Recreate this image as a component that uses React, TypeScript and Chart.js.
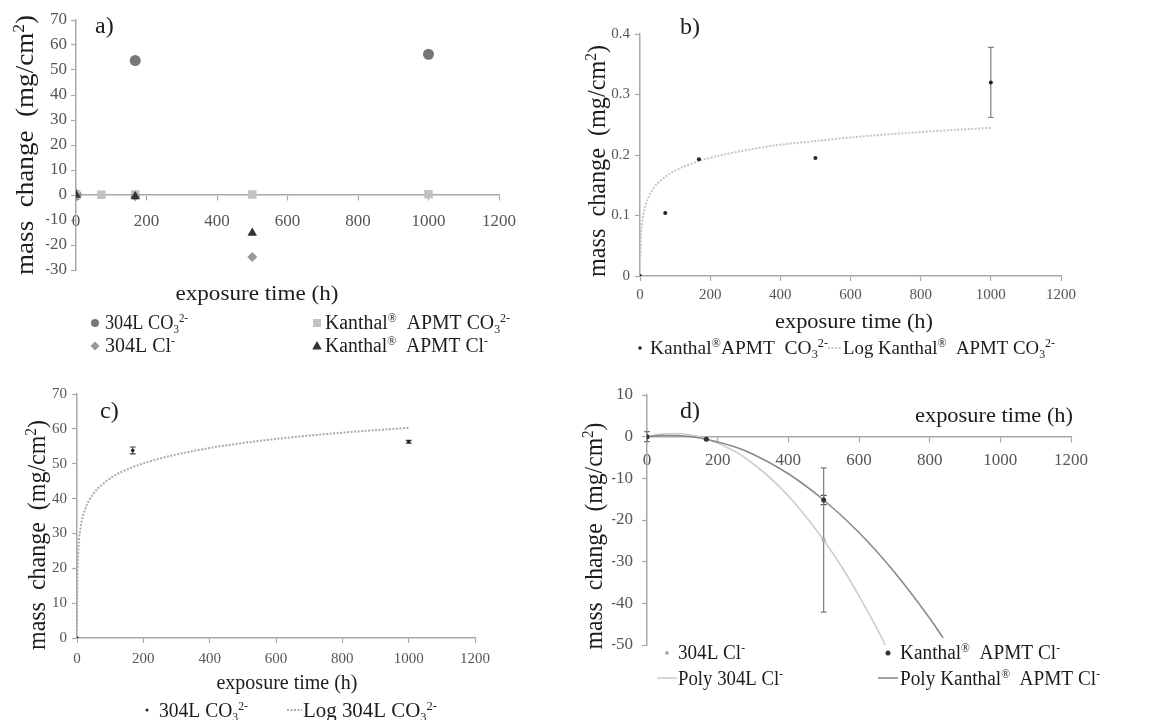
import React, { useEffect, useRef } from "react";
import { Chart, registerables } from "chart.js";

Chart.register(...registerables);

// ---------------- DATA ----------------
// Panel a) all series
const aTime304CO3 = [0, 168, 1000];
const aMass304CO3 = [0, 53.8, 56.3];
const aTimeKanCO3 = [0, 72, 168, 500, 1000];
const aMassKanCO3 = [0, 0.1, 0.19, 0.2, 0.32];
const aTime304Cl = [0, 168, 500];
const aMass304Cl = [0, -0.5, -24.8];
const aTimeKanCl = [0, 168, 500];
const aMassKanCl = [0, -0.6, -15.2];

// Panel b) Kanthal APMT CO3
const bTime = [0, 72, 168, 500, 1000];
const bMass = [0, 0.104, 0.193, 0.195, 0.32];
const bErr = [0, 0, 0, 0, 0.058];
const bLogTime = [1, 3, 5, 10, 20, 40, 70, 100, 168, 250, 400, 500, 600, 800, 1000];
const bLogMass = [0.032, 0.066, 0.082, 0.103, 0.124, 0.146, 0.163, 0.174, 0.19, 0.202, 0.217, 0.223, 0.229, 0.238, 0.245];

// Panel c) 304L CO3
const cTime = [0, 168, 1000];
const cMass = [0, 53.8, 56.3];
const cErr = [0, 1.0, 0.4];
const cLogTime = [0.1, 0.3, 1, 3, 10, 25, 50, 100, 168, 250, 400, 600, 800, 1000];
const cLogMass = [2, 9, 16.6, 23.6, 31.2, 37, 41.4, 45.8, 49, 51.5, 54.5, 57.1, 58.9, 60.3];

// Panel d) chloride
const dTime304 = [0, 168, 500];
const dMass304 = [0, -0.5, -24.8];
const dErr304 = [1.2, 0, 17.3];
const dTimeKan = [0, 168, 500];
const dMassKan = [0, -0.6, -15.2];
const dErrKan = [0, 0, 1.1];
const dPoly304Time = [0, 40, 80, 120, 168, 250, 300, 350, 400, 450, 500, 550, 600, 650, 680];
const dPoly304Mass = [0, 0.6, 0.75, 0.45, -0.5, -3.6, -6.5, -10, -14.2, -19.2, -24.8, -31.1, -38.2, -45.9, -50.9];
const dPolyKanTime = [0, 40, 80, 120, 168, 250, 300, 400, 500, 600, 700, 800, 838];
const dPolyKanMass = [0, 0.27, 0.29, 0.05, -0.6, -2.5, -4.2, -8.9, -15.2, -23, -32.5, -43.6, -48.3];

// axis ranges [min, max, step]
const xRange = [0, 1200, 200];
const aYRange = [-30, 70, 10];
const bYRange = [0, 0.4, 0.1];
const cYRange = [0, 70, 10];
const dYRange = [-50, 10, 10];

// ---------------- STYLE ----------------
const FONT = '"Liberation Serif", "Times New Roman", serif';
const AXIS = "#a8a8a8";
const TICK = "#555555";
const TXT = "#1c1c1c";

const pts = (xs: number[], ys: number[]) => xs.map((x, i) => ({ x, y: ys[i] }));

type Seg = { t: string; k: "n" | "sub" | "sup" };
function parseRich(s: string): Seg[] {
  const out: Seg[] = [];
  let buf = "";
  let i = 0;
  while (i < s.length) {
    const c = s[i];
    if ((c === "_" || c === "^") && s[i + 1] === "{") {
      if (buf) { out.push({ t: buf, k: "n" }); buf = ""; }
      const end = s.indexOf("}", i + 2);
      out.push({ t: s.slice(i + 2, end), k: c === "_" ? "sub" : "sup" });
      i = end + 1;
    } else {
      buf += c;
      i++;
    }
  }
  if (buf) out.push({ t: buf, k: "n" });
  return out;
}

type Item =
  | { k: "text"; t: string; x: number; y: number; size: number; align?: "left" | "center"; width?: number; rot?: boolean; color?: string }
  | { k: "mark"; shape: string; x: number; y: number; r: number; color: string }
  | { k: "line"; x1: number; x2: number; y: number; color: string; dash: number[]; w: number };

function drawRich(ctx: CanvasRenderingContext2D, it: any) {
  const segs = parseRich(it.t);
  const size = it.size;
  const fontFor = (k: string) => `${k === "n" ? size : Math.round(size * 0.62)}px ${FONT}`;
  let total = 0;
  const ws = segs.map((s) => {
    ctx.font = fontFor(s.k);
    const w = ctx.measureText(s.t).width;
    total += w;
    return w;
  });
  ctx.save();
  if (it.rot) {
    ctx.translate(it.x + size * 0.3, it.y);
    ctx.rotate(-Math.PI / 2);
  } else {
    ctx.translate(it.x, it.y);
  }
  const sx = it.width ? it.width / total : 1;
  ctx.scale(sx, 1);
  let cx = it.align === "center" || it.rot ? -total / 2 : 0;
  ctx.textAlign = "left";
  ctx.textBaseline = "alphabetic";
  ctx.fillStyle = it.color || TXT;
  segs.forEach((s, i) => {
    ctx.font = fontFor(s.k);
    const dy = s.k === "sup" ? -size * 0.36 : s.k === "sub" ? size * 0.2 : 0;
    ctx.fillText(s.t, cx, dy);
    cx += ws[i];
  });
  ctx.restore();
}

function drawMark(ctx: CanvasRenderingContext2D, m: any) {
  ctx.save();
  ctx.fillStyle = m.color;
  ctx.beginPath();
  const { x, y, r } = m;
  if (m.shape === "circle") {
    ctx.arc(x, y, r, 0, Math.PI * 2);
  } else if (m.shape === "rect") {
    ctx.rect(x - r, y - r, 2 * r, 2 * r);
  } else if (m.shape === "diamond") {
    ctx.moveTo(x, y - r); ctx.lineTo(x + r, y); ctx.lineTo(x, y + r); ctx.lineTo(x - r, y); ctx.closePath();
  } else if (m.shape === "triangle") {
    ctx.moveTo(x, y - r); ctx.lineTo(x + r * 0.95, y + r * 0.7); ctx.lineTo(x - r * 0.95, y + r * 0.7); ctx.closePath();
  }
  ctx.fill();
  ctx.restore();
}

function makeTextPlugin(items: Item[]) {
  return {
    id: "figText",
    afterDraw(chart: any) {
      const ctx: CanvasRenderingContext2D = chart.ctx;
      items.forEach((it: any) => {
        if (it.k === "text") drawRich(ctx, it);
        else if (it.k === "mark") drawMark(ctx, it);
        else if (it.k === "line") {
          ctx.save();
          ctx.strokeStyle = it.color;
          ctx.lineWidth = it.w;
          ctx.setLineDash(it.dash);
          ctx.beginPath();
          ctx.moveTo(it.x1, it.y);
          ctx.lineTo(it.x2, it.y);
          ctx.stroke();
          ctx.restore();
        }
      });
    },
  };
}

const errorBarPlugin = {
  id: "errorBars",
  beforeDatasetsDraw(chart: any) {
    const ctx: CanvasRenderingContext2D = chart.ctx;
    const xs = chart.scales.x;
    const ys = chart.scales.y;
    chart.data.datasets.forEach((ds: any) => {
      const errs = ds.errorBars;
      if (!errs) return;
      ctx.save();
      ctx.strokeStyle = ds.errorColor || "#777";
      ctx.lineWidth = 1.2;
      ds.data.forEach((p: any, j: number) => {
        const e = errs[j];
        if (!e) return;
        const px = xs.getPixelForValue(p.x);
        const t = ys.getPixelForValue(p.y + e);
        const b = ys.getPixelForValue(p.y - e);
        ctx.beginPath();
        ctx.moveTo(px, t); ctx.lineTo(px, b);
        ctx.moveTo(px - 3, t); ctx.lineTo(px + 3, t);
        ctx.moveTo(px - 3, b); ctx.lineTo(px + 3, b);
        ctx.stroke();
      });
      ctx.restore();
    });
  },
};

type PanelSpec = {
  box: [number, number, number, number];
  padding: { left: number; top: number; right: number; bottom: number };
  yWidth: number;
  xPos: any;
  xHeight?: number;
  yRange: number[];
  yDecimals: number;
  tickSize: number;
  xTickPad: number;
  yTickPad: number;
  datasets: any[];
  items: Item[];
};

function buildConfig(s: PanelSpec): any {
  const fmt = (v: any) => (s.yDecimals ? String(Number(Number(v).toFixed(s.yDecimals))) : String(v));
  return {
    type: "scatter",
    data: { datasets: s.datasets },
    options: {
      animation: false,
      responsive: false,
      maintainAspectRatio: false,
      devicePixelRatio: 1,
      events: [],
      layout: { padding: s.padding },
      plugins: { legend: { display: false }, tooltip: { enabled: false } },
      scales: {
        x: {
          type: "linear",
          min: xRange[0],
          max: xRange[1],
          position: s.xPos,
          afterFit: (sc: any) => {
            if (s.xHeight) sc.height = s.xHeight;
          },
          ticks: {
            stepSize: xRange[2],
            autoSkip: false,
            maxRotation: 0,
            padding: s.xTickPad,
            color: TICK,
            font: { family: FONT, size: s.tickSize },
            callback: (v: any) => String(v),
          },
          grid: { display: true, drawOnChartArea: false, drawTicks: true, tickLength: 5, tickColor: AXIS, tickWidth: 1.2 },
          border: { display: true, color: AXIS, width: 1.5 },
        },
        y: {
          type: "linear",
          min: s.yRange[0],
          max: s.yRange[1],
          position: "left",
          afterFit: (sc: any) => {
            sc.width = s.yWidth;
          },
          ticks: {
            stepSize: s.yRange[2],
            autoSkip: false,
            padding: s.yTickPad,
            color: TICK,
            font: { family: FONT, size: s.tickSize },
            callback: fmt,
          },
          grid: { display: true, drawOnChartArea: false, drawTicks: true, tickLength: 5, tickColor: AXIS, tickWidth: 1.2 },
          border: { display: true, color: AXIS, width: 1.5 },
        },
      },
    },
    plugins: [errorBarPlugin, makeTextPlugin(s.items)],
  };
}

const YT = "mass  change  (mg/cm^{2})";
const XT = "exposure time (h)";

const panelA: PanelSpec = {
  box: [0, 0, 580, 370],
  padding: { left: 46, top: 20, right: 81, bottom: 100 },
  yWidth: 30,
  xPos: { y: 0 },
  yRange: aYRange,
  yDecimals: 0,
  tickSize: 17,
  xTickPad: 11,
  yTickPad: 4,
  datasets: [
    { label: "Kanthal APMT Cl-", data: pts(aTimeKanCl, aMassKanCl), pointStyle: "triangle", pointRadius: 5.5, backgroundColor: "#333333", borderColor: "#333333", borderWidth: 0 },
    { label: "304L Cl-", data: pts(aTime304Cl, aMass304Cl), pointStyle: "rectRot", pointRadius: 5, backgroundColor: "#999999", borderColor: "#999999", borderWidth: 0 },
    { label: "Kanthal APMT CO3", data: pts(aTimeKanCO3, aMassKanCO3), pointStyle: "rect", pointRadius: 6, backgroundColor: "#c2c2c2", borderColor: "#c2c2c2", borderWidth: 0 },
    { label: "304L CO3", data: pts(aTime304CO3, aMass304CO3), pointStyle: "circle", pointRadius: 5.5, backgroundColor: "#777777", borderColor: "#777777", borderWidth: 0 },
  ],
  items: [
    { k: "text", t: "a)", x: 95, y: 33, size: 24 },
    { k: "text", t: YT, x: 25, y: 145, size: 25, rot: true, width: 260 },
    { k: "text", t: XT, x: 257, y: 300, size: 22, align: "center", width: 163 },
    { k: "mark", shape: "circle", x: 95, y: 323, r: 4, color: "#777777" },
    { k: "text", t: "304L CO_{3}^{2-}", x: 105, y: 329, size: 20, width: 83 },
    { k: "mark", shape: "rect", x: 317, y: 323, r: 4, color: "#c2c2c2" },
    { k: "text", t: "Kanthal^{®}  APMT CO_{3}^{2-}", x: 325, y: 329, size: 20, width: 185 },
    { k: "mark", shape: "diamond", x: 95, y: 346, r: 4.5, color: "#999999" },
    { k: "text", t: "304L Cl^{-}", x: 105, y: 352, size: 20, width: 70 },
    { k: "mark", shape: "triangle", x: 317, y: 346, r: 5, color: "#333333" },
    { k: "text", t: "Kanthal^{®}  APMT Cl^{-}", x: 325, y: 352, size: 20, width: 163 },
  ],
};

const panelB: PanelSpec = {
  box: [580, 0, 593, 370],
  padding: { left: 20, top: 34, right: 112, bottom: 64 },
  yWidth: 40,
  xPos: "bottom",
  xHeight: 30,
  yRange: bYRange,
  yDecimals: 1,
  tickSize: 15,
  xTickPad: 5,
  yTickPad: 5,
  datasets: [
    { label: "Kanthal APMT CO3", data: pts(bTime, bMass), pointStyle: "circle", pointRadius: 2, backgroundColor: "#222222", borderColor: "#222222", borderWidth: 0, errorBars: bErr, errorColor: "#808080" },
    { label: "Log Kanthal APMT CO3", data: pts(bLogTime, bLogMass), showLine: true, pointRadius: 0, borderColor: "#c6c6c6", borderWidth: 2, borderDash: [2, 1.5], cubicInterpolationMode: "monotone", fill: false },
  ],
  items: [
    { k: "text", t: "b)", x: 100, y: 34, size: 24 },
    { k: "text", t: YT, x: 17, y: 161, size: 25, rot: true, width: 232 },
    { k: "text", t: XT, x: 274, y: 328, size: 22, align: "center", width: 158 },
    { k: "mark", shape: "circle", x: 60, y: 348, r: 1.8, color: "#222222" },
    { k: "text", t: "Kanthal^{®}APMT  CO_{3}^{2-}", x: 70, y: 354, size: 19, width: 178 },
    { k: "line", x1: 248, x2: 262, y: 348, color: "#c6c6c6", dash: [2, 1.5], w: 2 },
    { k: "text", t: "Log Kanthal^{®}  APMT CO_{3}^{2-}", x: 263, y: 354, size: 19, width: 212 },
  ],
};

const panelC: PanelSpec = {
  box: [0, 370, 580, 350],
  padding: { left: 41, top: 24, right: 105, bottom: 52 },
  yWidth: 36,
  xPos: "bottom",
  xHeight: 30,
  yRange: cYRange,
  yDecimals: 0,
  tickSize: 15,
  xTickPad: 7,
  yTickPad: 5,
  datasets: [
    { label: "304L CO3", data: pts(cTime, cMass), pointStyle: "circle", pointRadius: 1.8, backgroundColor: "#222222", borderColor: "#222222", borderWidth: 0, errorBars: cErr, errorColor: "#444444" },
    { label: "Log 304L CO3", data: pts(cLogTime, cLogMass), showLine: true, pointRadius: 0, borderColor: "#ababab", borderWidth: 2, borderDash: [2, 1.5], cubicInterpolationMode: "monotone", fill: false },
  ],
  items: [
    { k: "text", t: "c)", x: 100, y: 48, size: 24 },
    { k: "text", t: YT, x: 37, y: 165, size: 25, rot: true, width: 230 },
    { k: "text", t: XT, x: 287, y: 319, size: 20, align: "center", width: 141 },
    { k: "mark", shape: "circle", x: 147, y: 340, r: 1.5, color: "#222222" },
    { k: "text", t: "304L CO_{3}^{2-}", x: 159, y: 347, size: 20, width: 89 },
    { k: "line", x1: 287, x2: 302, y: 340, color: "#ababab", dash: [2, 1.5], w: 2 },
    { k: "text", t: "Log 304L CO_{3}^{2-}", x: 303, y: 347, size: 20, width: 134 },
  ],
};

const panelD: PanelSpec = {
  box: [580, 370, 593, 350],
  padding: { left: 32, top: 25, right: 102, bottom: 75 },
  yWidth: 35,
  xPos: { y: 0 },
  yRange: dYRange,
  yDecimals: 0,
  tickSize: 17,
  xTickPad: 9,
  yTickPad: 9,
  datasets: [
    { label: "Kanthal APMT Cl-", data: pts(dTimeKan, dMassKan), pointStyle: "circle", pointRadius: 2.5, backgroundColor: "#333333", borderColor: "#333333", borderWidth: 0, errorBars: dErrKan, errorColor: "#555555" },
    { label: "304L Cl-", data: pts(dTime304, dMass304), pointStyle: "circle", pointRadius: 2.2, backgroundColor: "#b0b0b0", borderColor: "#b0b0b0", borderWidth: 0, errorBars: dErr304, errorColor: "#7a7a7a" },
    { label: "Poly Kanthal APMT Cl-", data: pts(dPolyKanTime, dPolyKanMass), showLine: true, pointRadius: 0, borderColor: "#8a8a8a", borderWidth: 1.6, cubicInterpolationMode: "monotone", fill: false },
    { label: "Poly 304L Cl-", data: pts(dPoly304Time, dPoly304Mass), showLine: true, pointRadius: 0, borderColor: "#cdcdcd", borderWidth: 1.6, cubicInterpolationMode: "monotone", fill: false },
  ],
  items: [
    { k: "text", t: "d)", x: 100, y: 48, size: 24 },
    { k: "text", t: XT, x: 335, y: 52, size: 22, width: 158 },
    { k: "text", t: YT, x: 14, y: 166, size: 25, rot: true, width: 227 },
    { k: "mark", shape: "circle", x: 87, y: 283, r: 2, color: "#b0b0b0" },
    { k: "text", t: "304L Cl^{-}", x: 98, y: 289, size: 20, width: 67 },
    { k: "mark", shape: "circle", x: 308, y: 283, r: 2.5, color: "#333333" },
    { k: "text", t: "Kanthal^{®}  APMT Cl^{-}", x: 320, y: 289, size: 20, width: 160 },
    { k: "line", x1: 77, x2: 97, y: 308, color: "#cdcdcd", dash: [], w: 1.6 },
    { k: "text", t: "Poly 304L Cl^{-}", x: 98, y: 315, size: 20, width: 105 },
    { k: "line", x1: 298, x2: 318, y: 308, color: "#8a8a8a", dash: [], w: 1.6 },
    { k: "text", t: "Poly Kanthal^{®}  APMT Cl^{-}", x: 320, y: 315, size: 20, width: 200 },
  ],
};

function Panel({ spec }: { spec: PanelSpec }) {
  const ref = useRef<HTMLCanvasElement>(null);
  useEffect(() => {
    const canvas = ref.current;
    if (!canvas) return;
    const chart = new Chart(canvas, buildConfig(spec));
    return () => chart.destroy();
  }, [spec]);
  const [l, t, w, h] = spec.box;
  return (
    <canvas
      ref={ref}
      width={w}
      height={h}
      style={{ position: "absolute", left: l, top: t, width: w, height: h }}
    />
  );
}

export default function App() {
  return (
    <div style={{ position: "absolute", left: 0, top: 0, width: 1173, height: 720, background: "#ffffff", overflow: "hidden" }}>
      <Panel spec={panelA} />
      <Panel spec={panelB} />
      <Panel spec={panelC} />
      <Panel spec={panelD} />
    </div>
  );
}
